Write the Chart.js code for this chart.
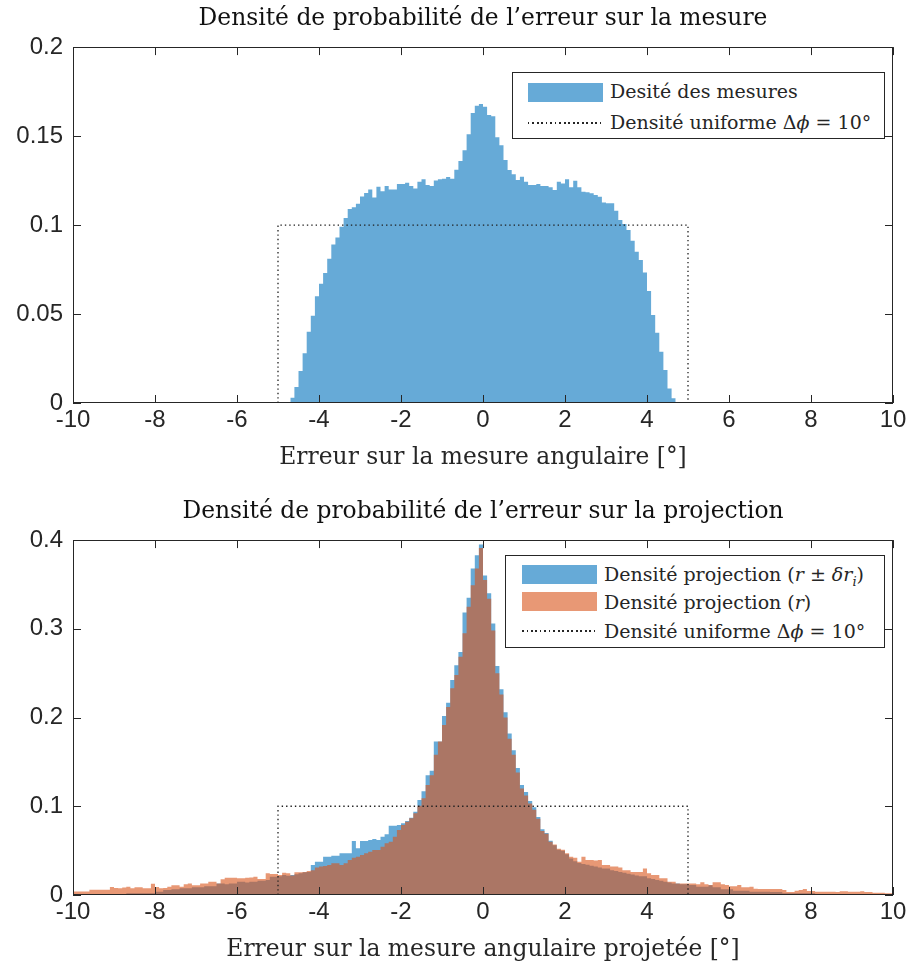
<!DOCTYPE html>
<html lang="fr">
<head>
<meta charset="utf-8">
<title>Densité de probabilité de l’erreur</title>
<script src="https://cdn.jsdelivr.net/npm/chart.js@4.4.0/dist/chart.umd.min.js"></script>
<style>
  html, body { margin: 0; padding: 0; background: #fff; }
  #page { position: relative; width: 912px; height: 970px; overflow: hidden; }
  .panel { position: absolute; left: 0; width: 912px; height: 485px; }
  .legend {
    position: absolute; box-sizing: border-box; background: #fff;
    border: 1px solid #262626; font-family: "DejaVu Serif", serif;
    font-size: 19px; color: #262626;
  }
  .legend .txt { position: absolute; height: 26px; line-height: 26px; white-space: nowrap; }
  .legend .sw { position: absolute; width: 75px; height: 19px; }
  .legend .dots {
    position: absolute; width: 75px; height: 1.5px;
    background: repeating-linear-gradient(to right, #262626 0 1.5px, transparent 1.5px 4.5px);
  }
</style>
</head>
<body>
<div id="page">
  <div class="panel" style="top:0"><canvas id="chartMesure" width="912" height="485"></canvas></div>
  <div class="panel" style="top:485px"><canvas id="chartProjection" width="912" height="485"></canvas></div>

  <div class="legend" style="left:512px; top:72px; width:373px; height:67px;">
    <div class="sw" style="left:15px; top:10px; background:rgba(0,114,189,0.6)"></div>
    <div class="txt" style="left:97px; top:5px;">Desité des mesures</div>
    <div class="dots" style="left:15px; top:49px;"></div>
    <div class="txt" style="left:97px; top:36px;">Densité uniforme Δ<i>ϕ</i> = 10°</div>
  </div>

  <div class="legend" style="left:505px; top:555px; width:380px; height:93px;">
    <div class="sw" style="left:16px; top:9px; background:rgba(0,114,189,0.6)"></div>
    <div class="txt" style="left:98px; top:5px;">Densité projection (<i>r</i> ± <i>δr<sub style="font-size:13px">i</sub></i>)</div>
    <div class="sw" style="left:16px; top:36px; background:rgba(217,83,25,0.6)"></div>
    <div class="txt" style="left:98px; top:33px;">Densité projection (<i>r</i>)</div>
    <div class="dots" style="left:16px; top:74px;"></div>
    <div class="txt" style="left:98px; top:62px;">Densité uniforme Δ<i>ϕ</i> = 10°</div>
  </div>
</div>

<script>
const SERIF = '"DejaVu Serif", serif';
const SANS = '"Liberation Sans", Arial, sans-serif';
const AXIS = "#262626";
const BLUE = "rgba(0, 114, 189, 0.6)";
const ORANGE = "rgba(217, 83, 25, 0.6)";

// tick labels
const xTickValues = [-10, -8, -6, -4, -2, 0, 2, 4, 6, 8, 10];
const mesureYTicks = [0, 0.05, 0.1, 0.15, 0.2];
const projYTicks = [0, 0.1, 0.2, 0.3, 0.4];

// histogram bins are 0.1 deg wide
const binWidth = 0.1;

// measured error, bins from -4.7 to 4.7 deg
const mesureFirstEdge = -4.7;
const mesureDensity = [
  0.003, 0.009, 0.018, 0.028, 0.040, 0.049, 0.060, 0.067, 0.073, 0.081,
  0.089, 0.093, 0.099, 0.104, 0.109, 0.110, 0.112, 0.116, 0.118, 0.120,
  0.1155, 0.1215, 0.119, 0.122, 0.120, 0.120, 0.123, 0.123, 0.1238, 0.122,
  0.1206, 0.1243, 0.1257, 0.1225, 0.122, 0.125, 0.1257, 0.126, 0.127, 0.126,
  0.131, 0.136, 0.142, 0.151, 0.163, 0.167, 0.168,
  0.1665, 0.1618, 0.1612, 0.1493, 0.1449, 0.1365, 0.1309, 0.1285, 0.1253, 0.1272,
  0.1243, 0.1225, 0.1225, 0.123, 0.1219, 0.1219, 0.1212, 0.1197, 0.1243, 0.1234,
  0.1257, 0.1212, 0.1249, 0.1212, 0.1187, 0.1184, 0.1178, 0.1169, 0.1159, 0.1127,
  0.1122, 0.1122, 0.108, 0.1028, 0.1006, 0.0972, 0.0912, 0.085, 0.0803, 0.0734,
  0.0629, 0.0494, 0.0395, 0.0288, 0.0185, 0.0082, 0.0026
];

// projected error, bins from -10 to 10 deg
const projFirstEdge = -10;
// (r ± δr_i)
const projDensityDelta = [
  0, 0, 0, 0, 0, 0, 0, 0, 0, 0,
  0, 0.0008, 0.0008, 0.0019, 0.0019, 0.0019, 0.0019, 0.0019, 0.0019, 0.0019,
  0.0038, 0.0038, 0.0056, 0.0056, 0.0064, 0.0064, 0.0075, 0.0075, 0.0075, 0.0086,
  0.0086, 0.0086, 0.010, 0.010, 0.010, 0.013, 0.013, 0.012, 0.013, 0.013,
  0.015, 0.015, 0.014, 0.015, 0.015, 0.016, 0.016, 0.017, 0.0207, 0.0207,
  0.021, 0.0225, 0.0218, 0.0225, 0.0233, 0.0244, 0.0255, 0.026, 0.0338, 0.0376,
  0.0376, 0.0432, 0.0432, 0.0443, 0.0443, 0.047, 0.047, 0.047, 0.0608, 0.0526,
  0.0608, 0.0608, 0.062, 0.063, 0.062, 0.0657, 0.0684, 0.078, 0.078, 0.079,
  0.081, 0.0834, 0.0871, 0.0939, 0.107, 0.117, 0.135, 0.140, 0.173, 0.173,
  0.2017, 0.2167, 0.2423, 0.259, 0.274, 0.3185, 0.335, 0.368, 0.383, 0.395,
  0.360, 0.340, 0.306, 0.258, 0.232, 0.206, 0.182, 0.163, 0.143, 0.124,
  0.116, 0.106, 0.099, 0.088, 0.074, 0.070, 0.061, 0.056, 0.051, 0.050,
  0.046, 0.041, 0.038, 0.036, 0.035, 0.034, 0.033, 0.032, 0.031, 0.030,
  0.030, 0.028, 0.027, 0.026, 0.025, 0.024, 0.023, 0.022, 0.021, 0.021,
  0.019, 0.018, 0.017, 0.016, 0.015, 0.014, 0.013, 0.013, 0.012, 0.012,
  0.0113, 0.0113, 0.0094, 0.0094, 0.0094, 0.011, 0.0086, 0.0086, 0.0064, 0.0064,
  0.0064, 0.0049, 0.0049, 0.0049, 0.0049, 0.0038, 0.0038, 0.0038, 0.0038, 0.0038,
  0.0034, 0.0034, 0.0034, 0.0019, 0.0019, 0.0019, 0.0019, 0.0019, 0.0019, 0.0019,
  0.0019, 0.0008, 0.0008, 0.0008, 0.0008, 0.0008, 0.0008, 0.0008, 0.0008, 0,
  0, 0, 0, 0, 0, 0, 0, 0, 0, 0
];
// (r)
const projDensity = [
  0.004, 0.004, 0.004, 0.004, 0.006, 0.006, 0.006, 0.006, 0.006, 0.009,
  0.008, 0.0075, 0.0085, 0.0094, 0.0076, 0.0086, 0.0086, 0.0075, 0.0075, 0.0128,
  0.009, 0.0075, 0.008, 0.0094, 0.011, 0.011, 0.0094, 0.012, 0.013, 0.011,
  0.011, 0.013, 0.013, 0.015, 0.015, 0.013, 0.0177, 0.0195, 0.0195, 0.0195,
  0.019, 0.019, 0.0195, 0.0198, 0.0207, 0.018, 0.018, 0.0244, 0.0237, 0.0237,
  0.0225, 0.025, 0.0244, 0.022, 0.0255, 0.0255, 0.026, 0.027, 0.028, 0.031,
  0.032, 0.0327, 0.0338, 0.0357, 0.0357, 0.0338, 0.0357, 0.0394, 0.042, 0.0432,
  0.045, 0.047, 0.0488, 0.0507, 0.0507, 0.0545, 0.0582, 0.0601, 0.0657, 0.0732,
  0.079, 0.0826, 0.0864, 0.092, 0.1007, 0.109, 0.124, 0.135, 0.158, 0.173,
  0.1915, 0.212, 0.233, 0.248, 0.2685, 0.295, 0.325, 0.349, 0.368, 0.391,
  0.355, 0.334, 0.298, 0.250, 0.226, 0.200, 0.176, 0.158, 0.138, 0.120,
  0.112, 0.103, 0.096, 0.086, 0.072, 0.069, 0.060, 0.057, 0.052, 0.051,
  0.047, 0.043, 0.042, 0.0376, 0.043, 0.0394, 0.0394, 0.039, 0.0394, 0.0338,
  0.0338, 0.032, 0.032, 0.031, 0.028, 0.028, 0.026, 0.026, 0.026, 0.030,
  0.0244, 0.0225, 0.0225, 0.0188, 0.0188, 0.015, 0.015, 0.013, 0.013, 0.013,
  0.0131, 0.0131, 0.012, 0.0143, 0.012, 0.0113, 0.0143, 0.0143, 0.012, 0.0113,
  0.010, 0.010, 0.0113, 0.0086, 0.0086, 0.0094, 0.0071, 0.0068, 0.0068, 0.0068,
  0.0068, 0.0068, 0.0068, 0.0056, 0.0034, 0.0034, 0.0049, 0.0056, 0.0068, 0.0045,
  0.0045, 0.0038, 0.0038, 0.0038, 0.0038, 0.0038, 0.0034, 0.0041, 0.0041, 0.0038,
  0.0038, 0.0038, 0.0041, 0.0034, 0.0034, 0.0026, 0.0026, 0.0026, 0.0019, 0.0019
];

// uniform density for Δϕ = 10°
const uniformX = [-5, -5, 5, 5];
const uniformY = [0, 0.1, 0.1, 0];

// histogram as a stepped outline: one point per left bin edge, plus the closing edge
function stepPoints(values, firstEdge) {
  var pts = values.map(function (v, i) {
    return { x: +(firstEdge + i * binWidth).toFixed(2), y: v };
  });
  pts.push({ x: +(firstEdge + values.length * binWidth).toFixed(2), y: 0 });
  return pts;
}

function histDataset(label, values, firstEdge, color, order) {
  return {
    label: label,
    data: stepPoints(values, firstEdge),
    stepped: "before",
    fill: "origin",
    backgroundColor: color,
    borderColor: "rgba(0,0,0,0)",
    borderWidth: 0,
    pointRadius: 0,
    tension: 0,
    order: order,
  };
}

function uniformDataset() {
  return {
    label: "Densité uniforme Δϕ = 10°",
    data: uniformX.map(function (x, i) { return { x: x, y: uniformY[i] }; }),
    borderColor: "#1f1f1f",
    borderWidth: 1.3,
    borderDash: [1.4, 3],
    fill: false,
    pointRadius: 0,
    tension: 0,
    order: 0,
  };
}

// box around the axes with inward ticks on all four sides
const matlabAxes = {
  id: "matlabAxes",
  afterDatasetsDraw: function (chart) {
    const ctx = chart.ctx;
    const a = chart.chartArea;
    const xs = chart.scales.x;
    const ys = chart.scales.y;
    const len = 8;
    ctx.save();
    ctx.strokeStyle = AXIS;
    ctx.lineWidth = 1;
    ctx.beginPath();
    xs.ticks.forEach(function (t) {
      const px = Math.round(xs.getPixelForValue(t.value)) + 0.5;
      ctx.moveTo(px, a.bottom);
      ctx.lineTo(px, a.bottom - len);
      ctx.moveTo(px, a.top);
      ctx.lineTo(px, a.top + len);
    });
    ys.ticks.forEach(function (t) {
      const py = Math.round(ys.getPixelForValue(t.value)) + 0.5;
      ctx.moveTo(a.left, py);
      ctx.lineTo(a.left + len, py);
      ctx.moveTo(a.right, py);
      ctx.lineTo(a.right - len, py);
    });
    ctx.stroke();
    ctx.strokeRect(Math.round(a.left) + 0.5, Math.round(a.top) + 0.5,
      Math.round(a.right - a.left) - 1, Math.round(a.bottom - a.top) - 1);
    ctx.restore();
  },
};

function fmtTick(v) {
  return String(Math.round(v * 100) / 100);
}

function makeChart(canvasId, p) {
  const serifFont = { family: SERIF, size: 23.4, weight: "normal", lineHeight: 1.2 };
  const tickFont = { family: SANS, size: 24, lineHeight: 1.2 };
  return new Chart(document.getElementById(canvasId), {
    type: "line",
    data: { datasets: p.datasets },
    plugins: [matlabAxes],
    options: {
      responsive: false,
      animation: false,
      devicePixelRatio: 1,
      events: [],
      layout: { padding: { left: 0, right: 19, top: 0, bottom: 0 } },
      plugins: {
        legend: { display: false },
        tooltip: { enabled: false },
        title: {
          display: true,
          text: p.title,
          color: "#111",
          fullSize: false,
          font: serifFont,
          padding: { top: p.titleTop, bottom: p.titleBottom },
        },
      },
      scales: {
        x: {
          type: "linear",
          min: -10,
          max: 10,
          afterBuildTicks: function (s) {
            s.ticks = xTickValues.map(function (v) { return { value: v }; });
          },
          afterFit: function (s) { s.height = p.xHeight; },
          grid: { display: false, drawTicks: false },
          border: { display: false },
          ticks: {
            color: AXIS,
            font: tickFont,
            padding: 3,
            maxRotation: 0,
            autoSkip: false,
            callback: fmtTick,
          },
          title: {
            display: true,
            text: p.xTitle,
            color: AXIS,
            font: serifFont,
            padding: { top: 0, bottom: p.xTitleBottom },
          },
        },
        y: {
          type: "linear",
          min: 0,
          max: p.yTicks[p.yTicks.length - 1],
          afterBuildTicks: function (s) {
            s.ticks = p.yTicks.map(function (v) { return { value: v }; });
          },
          afterFit: function (s) { s.width = 73; },
          grid: { display: false, drawTicks: false },
          border: { display: false },
          ticks: {
            color: AXIS,
            font: tickFont,
            padding: 10,
            autoSkip: false,
            callback: fmtTick,
          },
        },
      },
    },
  });
}

makeChart("chartMesure", {
  title: "Densité de probabilité de l’erreur sur la mesure",
  xTitle: "Erreur sur la mesure angulaire [°]",
  titleTop: 5,
  titleBottom: 14,
  xHeight: 82,
  xTitleBottom: 13,
  yTicks: mesureYTicks,
  datasets: [
    histDataset("Desité des mesures", mesureDensity, mesureFirstEdge, BLUE, 2),
    uniformDataset(),
  ],
});

makeChart("chartProjection", {
  title: "Densité de probabilité de l’erreur sur la projection",
  xTitle: "Erreur sur la mesure angulaire projetée [°]",
  titleTop: 13,
  titleBottom: 14,
  xHeight: 75,
  xTitleBottom: 6,
  yTicks: projYTicks,
  datasets: [
    histDataset("Densité projection (r ± δr_i)", projDensityDelta, projFirstEdge, BLUE, 2),
    histDataset("Densité projection (r)", projDensity, projFirstEdge, ORANGE, 1),
    uniformDataset(),
  ],
});
</script>
</body>
</html>
